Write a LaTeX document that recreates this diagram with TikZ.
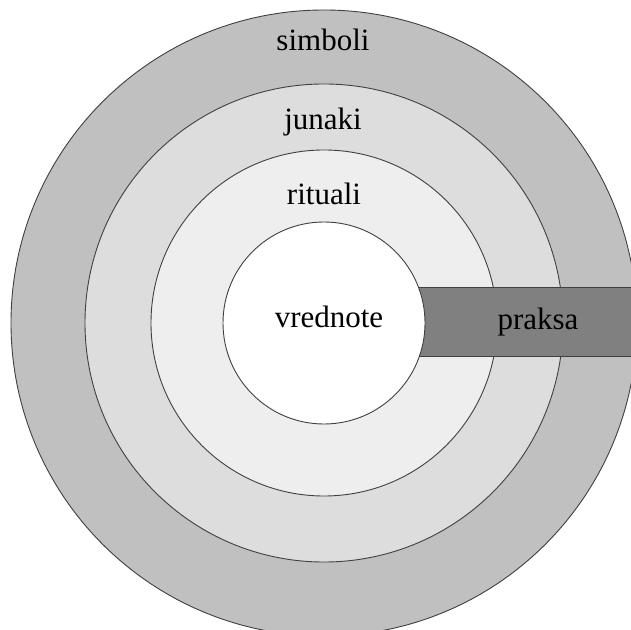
\documentclass[tikz,border=0pt]{standalone}
\usepackage{fontspec}
\setmainfont{Liberation Serif}
\definecolor{ring1}{HTML}{C0C0C0}
\definecolor{ring2}{HTML}{DDDDDD}
\definecolor{ring3}{HTML}{EEEEEE}
\definecolor{praksacol}{HTML}{808080}
\definecolor{edge}{HTML}{404040}
\begin{document}
\begin{tikzpicture}[x=1pt,y=1pt,
  ring/.style={circle,draw=edge,line width=0.9pt,inner sep=0pt,minimum size=#1},
  lbl/.style={anchor=base,inner sep=0pt,font=\fontsize{31}{37}\selectfont}]
\useasboundingbox (0,0) rectangle (631,629);
\fill[white] (0,0) rectangle (631,629);
\coordinate (c) at (324,306);
\node[ring=626pt,fill=ring1] (outer) at (c) {};
\node[ring=478pt,fill=ring2] (junring) at (c) {};
\node[ring=346pt,fill=ring3] (ritring) at (c) {};
\node[draw=edge,line width=0.9pt,fill=praksacol,minimum width=320pt,minimum height=69pt,anchor=west,inner sep=0pt] (prbox) at (340,307.5) {};
\node[ring=202pt,fill=white] (inner) at (c) {};
\node[lbl] (simboli) at (323,578) {simboli};
\node[lbl] (junaki) at (323,499) {junaki};
\node[lbl] (rituali) at (324,424) {rituali};
\node[lbl] (vrednote) at (329,301) {vrednote};
\node[lbl] (praksa) at (538,299) {praksa};
\end{tikzpicture}
\end{document}
